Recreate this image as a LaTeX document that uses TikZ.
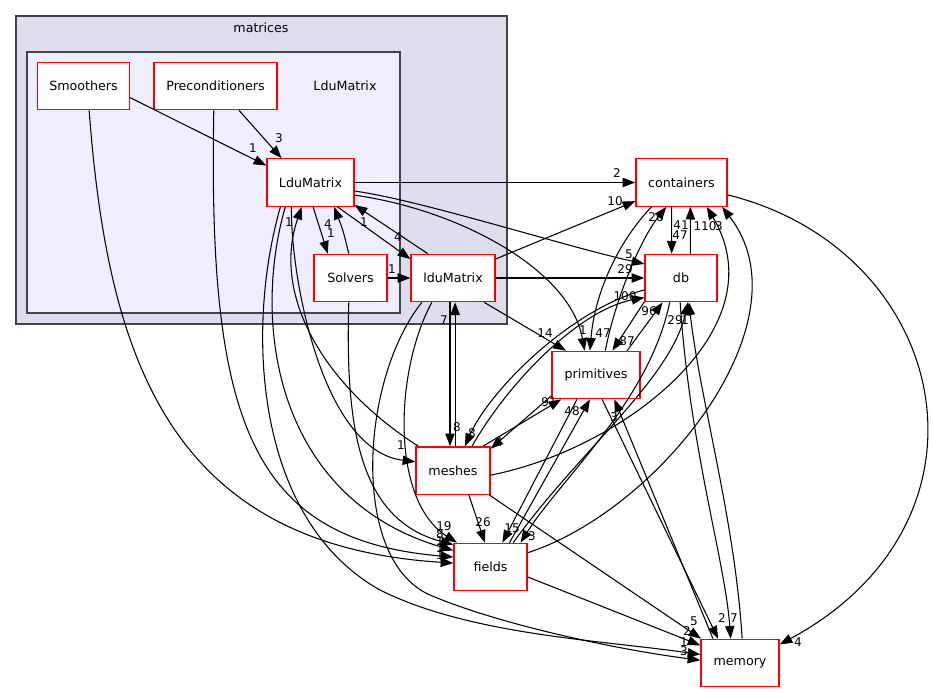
\documentclass[tikz,border=0pt]{standalone}
\usepackage{fontspec}
\setmainfont{DejaVu Sans}
\usepackage{tikz}
\usetikzlibrary{arrows.meta}
\definecolor{clusterouter}{RGB}{221,221,238}
\definecolor{clusterinner}{RGB}{238,238,255}
\definecolor{clusterline}{RGB}{68,68,68}

\begin{document}
\begin{tikzpicture}[
  x=0.75pt, y=-0.75pt,
  dirnode/.style={
    draw=red, fill=white, line width=1pt, minimum height=35.5pt,
    inner sep=0pt, font=\fontsize{9.5}{11}\selectfont
  },
  clusterbox/.style={draw=clusterline, line width=1pt},
  dep/.style={-{Triangle[length=9.5pt,width=7pt]}, line width=0.8pt, black},
  lbl/.style={font=\fontsize{9}{10}\selectfont, inner sep=0pt}
]
\useasboundingbox (0,0) rectangle (933,692);

% clusters
\draw[clusterbox, fill=clusterouter] (16,16) rectangle (507,324);
\node[font=\fontsize{9.5}{11}\selectfont] (matricesLabel) at (261,28) {matrices};
\draw[clusterbox, fill=clusterinner] (27,52) rectangle (400,313);
\node[font=\fontsize{9.5}{11}\selectfont] (LduMatrixDirLabel) at (345,86) {LduMatrix};

% directories
\node[dirnode, minimum width=69pt] (Smoothers) at (83.5,86) {Smoothers};
\node[dirnode, minimum width=92.25pt] (Preconditioners) at (215.5,86) {Preconditioners};
\node[dirnode, minimum width=65.25pt] (LduMatrix) at (310.5,182.5) {LduMatrix};
\node[dirnode, minimum width=54.75pt] (Solvers) at (350.5,278) {Solvers};
\node[dirnode, minimum width=63pt] (lduMatrix) at (453,278) {lduMatrix};
\node[dirnode, minimum width=68.25pt] (containers) at (681.5,182.5) {containers};
\node[dirnode, minimum width=54pt] (db) at (681,278) {db};
\node[dirnode, minimum width=66pt] (primitives) at (596,375) {primitives};
\node[dirnode, minimum width=55.5pt] (meshes) at (453,470.5) {meshes};
\node[dirnode, minimum width=54.75pt] (fields) at (490.5,567) {fields};
\node[dirnode, minimum width=58.5pt] (memory) at (740,663) {memory};

% dependencies
\draw[dep] (Smoothers.-14) -- (LduMatrix.159) node[lbl] at (253,148) {1};
\draw[dep] (Smoothers.-77) .. controls (108,360) and (170,545) .. (fields.174) node[lbl] at (440,555) {1};
\draw[dep] (Preconditioners.-94) .. controls (208,420) and (250,540) .. (fields.165) node[lbl] at (440,548) {1};
\draw[dep] (Preconditioners.-46) -- (LduMatrix.140) node[lbl] at (279,138) {3};
\draw[dep] (LduMatrix.east) -- (containers.west) node[lbl] at (617,173) {2};
\draw[dep] (LduMatrix.-84) -- (Solvers.133) node[lbl] at (328,224) {4};
\draw[dep] (Solvers.94) .. controls (343,230) .. (LduMatrix.-46) node[lbl] at (331,233) {1};
\draw[dep] (LduMatrix.-42) -- (lduMatrix.156) node[lbl] at (398,237) {4};
\draw[dep] (lduMatrix.136) -- (LduMatrix.-27) node[lbl] at (364,222) {1};
\draw[dep] (LduMatrix.-11) .. controls (420,200) and (560,245) .. (db.159) node[lbl] at (629,254) {5};
\draw[dep] (LduMatrix.-16) .. controls (460,210) and (570,270) .. (primitives.115) node[lbl] at (583,330) {1};
\draw[dep] (LduMatrix.-128) .. controls (290,270) and (320,450) .. (meshes.167) node[lbl] at (401,445) {1};
\draw[dep] (meshes.145) .. controls (330,390) and (270,300) .. (LduMatrix.-110) node[lbl] at (289,222) {1};
\draw[dep] (LduMatrix.-136) .. controls (250,330) and (280,500) .. (fields.156) node[lbl] at (440,541) {1};
\draw[dep] (LduMatrix.-141) .. controls (245,330) and (255,520) .. (380,590)
  .. controls (470,635) and (600,640) .. (memory.168) node[lbl] at (684,642) {1};
\draw[dep] (Solvers.east) -- (lduMatrix.west) node[lbl] at (392,269) {1};
\draw[dep] (Solvers.-94) .. controls (345,430) and (360,520) .. (fields.149) node[lbl] at (440,534) {8};
\draw[dep] (lduMatrix.24) -- (containers.-158) node[lbl] at (615,201) {10};
\draw[dep] (lduMatrix.east) -- (db.west) node[lbl] at (625,269) {29};
\draw[dep] (lduMatrix.-38) -- (primitives.141) node[lbl] at (545,333) {14};
\draw[dep] (lduMatrix.-97) -- (meshes.97) node[lbl] at (457,427) {8};
\draw[dep] (meshes.85) -- (lduMatrix.-85) node[lbl] at (444,320) {7};
\draw[dep] (lduMatrix.-131) .. controls (395,370) and (390,500) .. (fields.144) node[lbl] at (444,526) {19};
\draw[dep] (lduMatrix.-142) .. controls (360,380) and (350,560) .. (430,595)
  .. controls (500,625) and (620,650) .. (memory.176) node[lbl] at (684,651) {3};
\draw[dep] (containers.-112) -- (db.111) node[lbl] at (680,235) {47};
\draw[dep] (db.69) -- (containers.-70) node[lbl] at (681,225) {41};
\draw[dep] (containers.-141) .. controls (620,240) and (595,290) .. (primitives.104) node[lbl] at (603,333) {47};
\draw[dep] (primitives.69) .. controls (615,300) and (640,240) .. (containers.-122) node[lbl] at (656,217) {26};
\draw[dep] (containers.-15) .. controls (950,250) and (1010,520) .. (memory.25) node[lbl] at (798,642) {4};
\draw[dep] (db.-147) -- (primitives.56) node[lbl] at (627,341) {87};
\draw[dep] (primitives.38) -- (db.-127) node[lbl] at (649,311) {96};
\draw[dep] (db.-162) .. controls (570,310) and (490,390) .. (meshes.64) node[lbl] at (472,433) {8};
\draw[dep] (meshes.52) .. controls (510,380) and (580,310) .. (db.-152) node[lbl] at (625,296) {100};
\draw[dep] (db.-115) .. controls (650,400) and (560,480) .. (fields.39) node[lbl] at (532,536) {3};
\draw[dep] (fields.47) .. controls (580,450) and (670,380) .. (db.-74) node[lbl] at (675,320) {29};
\draw[dep] (db.-92) .. controls (690,450) and (725,560) .. (memory.111) node[lbl] at (734,618) {7};
\draw[dep] (memory.85) .. controls (735,520) and (700,400) .. (db.-72) node[lbl] at (685,320) {1};
\draw[dep] (primitives.-155) -- (meshes.30) node[lbl] at (499,442) {4};
\draw[dep] (meshes.39) -- (primitives.-145) node[lbl] at (549,402) {91};
\draw[dep] (primitives.-128) -- (fields.64) node[lbl] at (512,528) {15};
\draw[dep] (fields.52) -- (primitives.-104) node[lbl] at (572,411) {48};
\draw[dep] (primitives.-76) -- (memory.132) node[lbl] at (722,618) {2};
\draw[dep] (memory.138) -- (primitives.-53) node[lbl] at (614,417) {3};
\draw[dep] (meshes.-7) .. controls (620,450) and (780,330) .. (containers.-44) node[lbl] at (705,226) {110};
\draw[dep] (fields.21) .. controls (660,510) and (810,320) .. (containers.-31) node[lbl] at (719,226) {3};
\draw[dep] (meshes.-57) -- (fields.103) node[lbl] at (483,522) {26};
\draw[dep] (meshes.-34) -- (memory.148) node[lbl] at (694,621) {5};
\draw[dep] (fields.-15) -- (memory.156) node[lbl] at (687,631) {2};
\end{tikzpicture}
\end{document}
